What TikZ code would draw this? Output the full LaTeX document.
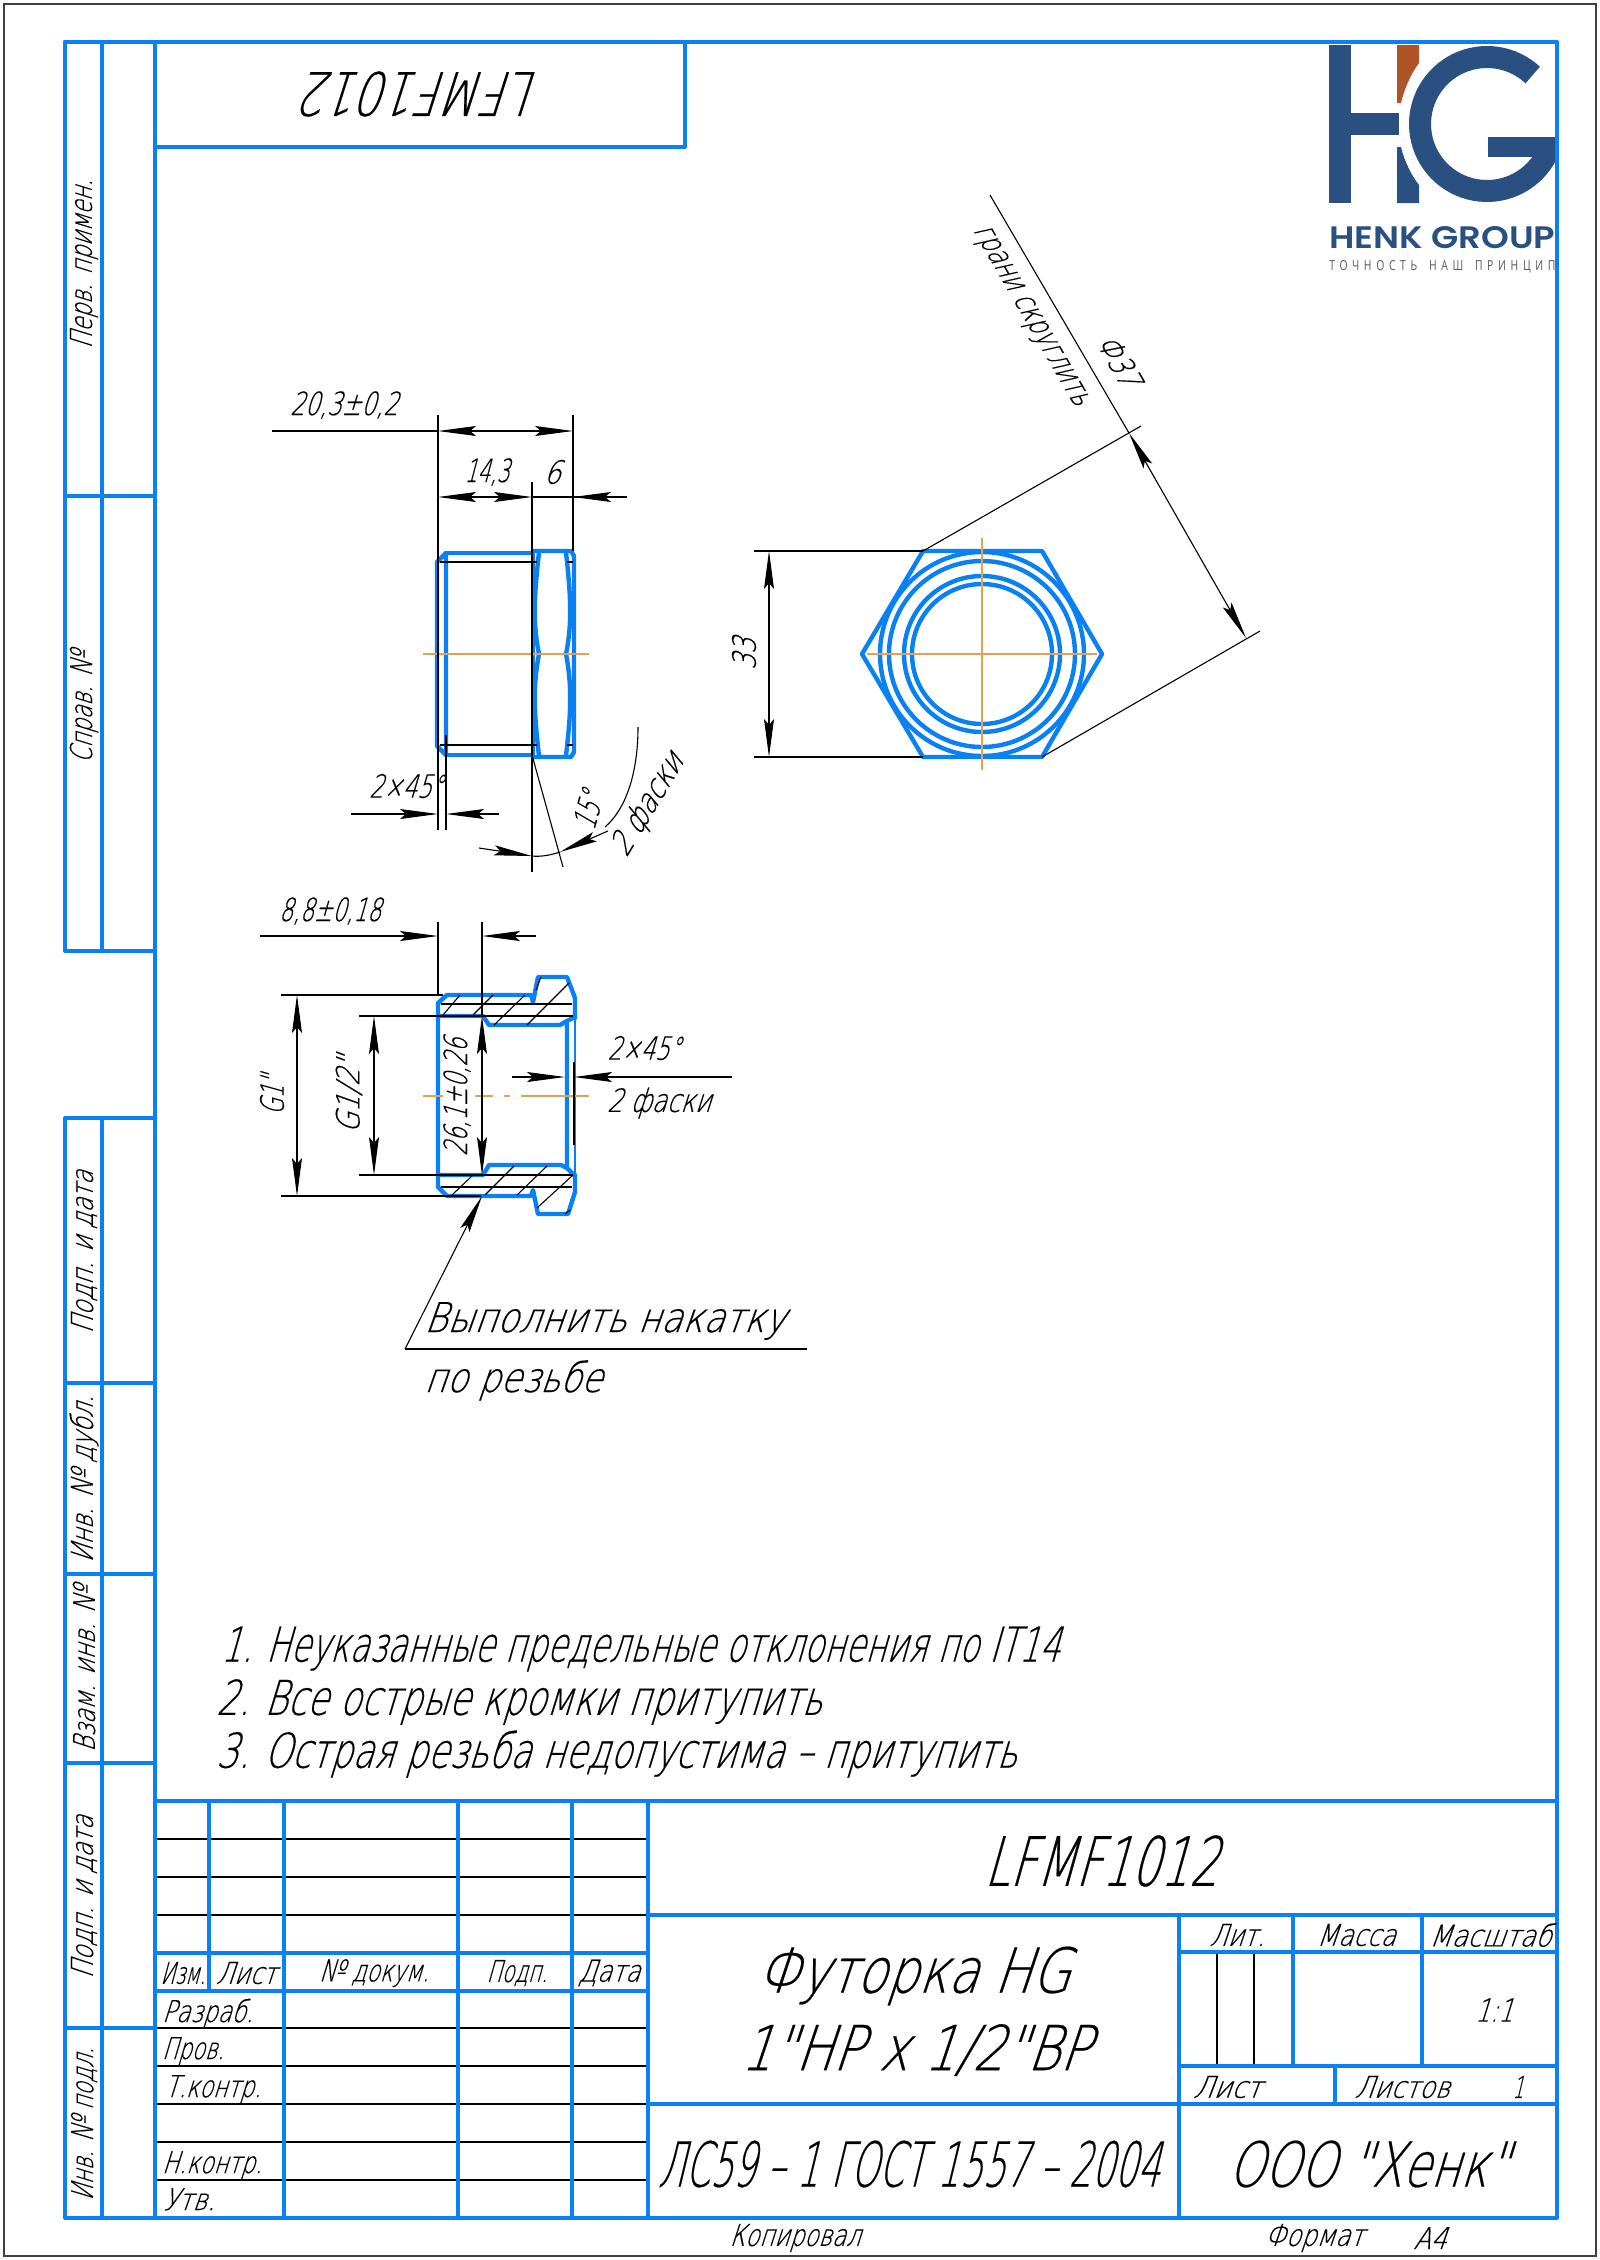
\documentclass[tikz,border=0pt]{standalone}
\usepackage{fontspec}
\usepackage{graphicx}
\usetikzlibrary{arrows.meta}
\newfontfamily\gost[FakeSlant=0.3,FakeStretch=0.72,FakeBold=0.35]{DejaVu Sans ExtraLight}
\newfontfamily\logofont{Poppins SemiBold}
\newfontfamily\tagfont[LetterSpace=45,WordSpace=1.6]{Open Sans}
\newcommand{\ft}[2]{\resizebox{\dimexpr #1pt/2\relax}{\height}{#2}}
\definecolor{bl}{HTML}{0A80F5}
\definecolor{cen}{HTML}{E8A050}
\definecolor{logoblue}{HTML}{2A5082}
\definecolor{logobrown}{HTML}{AE5427}
\tikzset{
  x=0.5pt,y=-0.5pt,
  main/.style={draw=bl,line width=2pt,line join=round,line cap=round},
  part/.style={draw=bl,line width=2.2pt,line join=round,line cap=round},
  partthin/.style={draw=bl,line width=1.3pt,line join=round,line cap=round},
  thin/.style={draw=black,line width=0.55pt},
  axisline/.style={draw=cen,line width=0.55pt},
  dim/.style={draw=black,line width=0.55pt,{Stealth[length=19pt,width=5pt,inset=3pt]}-{Stealth[length=19pt,width=5pt,inset=3pt]}},
  dimr/.style={draw=black,line width=0.55pt,-{Stealth[length=19pt,width=5pt,inset=3pt]}},
  txt/.style={inner sep=0pt,outer sep=0pt,font=\gost\fontsize{#1}{#1}\selectfont,text=black},
  txt/.default=15pt
}
\begin{document}
\begin{tikzpicture}
\useasboundingbox (0,0) rectangle (1600,2260);
\fill[white] (0,0) rectangle (1600,2260);
\draw[draw=black!75,line width=0.8pt] (4,4) rectangle (1596,2256);

% logo
\fill[logoblue] (1329,45) rectangle (1351,203);
\fill[logoblue] (1351,113) rectangle (1399,135);
\fill[logobrown] (1397,45) -- (1419,45) -- (1419,63) .. controls (1410,75) and (1404,90) .. (1401,103) -- (1397,103) -- cycle;
\fill[logoblue] (1397,147) -- (1401,147) .. controls (1404,160) and (1411,175) .. (1419,185) -- (1419,203) -- (1397,203) -- cycle;
\begin{scope}
\clip (1390,40) rectangle (1555,210);
\draw[logoblue,line width=11pt] plot[domain=47:346,samples=70] ({1487+67*cos(\x)},{124-67*sin(\x)});
\end{scope}
\fill[logoblue] (1488,137) rectangle (1555,157);
\node[inner sep=0pt,anchor=west,text=logoblue] (logoa) at (1329,238) {\resizebox{113pt}{11pt}{\logofont HENK GROUP}};
\node[inner sep=0pt,anchor=west,text=black!65] (logob) at (1329,267) {\resizebox{113pt}{5pt}{\tagfont ТОЧНОСТЬ НАШ ПРИНЦИП}};

% thin table lines (below the blue lines)
\foreach \yy in {1839,1877,1915}{\draw[thin] (155,\yy) -- (648,\yy);}
\foreach \yy in {2028,2066,2104,2142,2180}{\draw[thin] (155,\yy) -- (648,\yy);}
\draw[thin] (1217,1952) -- (1217,2066) (1254,1952) -- (1254,2066);

% frame
\draw[main] (65,42) -- (1557,42) -- (1557,2218) -- (65,2218) -- (65,1118) -- (155,1118);
\draw[main] (65,42) -- (65,951) -- (155,951);
\draw[main] (102,42) -- (102,951) (102,1118) -- (102,2218) (155,42) -- (155,2218);
\draw[main] (65,496) -- (155,496) (65,1383) -- (155,1383) (65,1574) -- (155,1574) (65,1763) -- (155,1763) (65,2028) -- (155,2028);
\draw[main] (155,147) -- (685,147) -- (685,42);

% title block
\draw[main] (155,1801) -- (1557,1801);
\draw[main] (155,1953) -- (648,1953) (155,1991) -- (648,1991);
\draw[main] (648,1915) -- (1557,1915) (648,2104) -- (1557,2104);
\draw[main] (1179,1952) -- (1557,1952) (1179,2066) -- (1557,2066);
\draw[main] (209,1801) -- (209,1991);
\draw[main] (284,1801) -- (284,2218) (458,1801) -- (458,2218) (572,1801) -- (572,2218) (648,1801) -- (648,2218);
\draw[main] (1179,1915) -- (1179,2218) (1293,1915) -- (1293,2066) (1422,1915) -- (1422,2066) (1335,2066) -- (1335,2104);

% side view
\draw[part] (446,553) -- (533,553) -- (533,755) -- (446,755);
\draw[part] (446,553) -- (437,562) -- (437,746) -- (446,755) -- cycle;
\draw[part] (533,551) -- (571,551) -- (574,556) -- (574,752) -- (571,757) -- (533,757);
\draw[part] (539,552) .. controls (535,590) and (532,620) .. (539,654) .. controls (532,690) and (535,720) .. (539,756);
\draw[part] (566,552) .. controls (570,590) and (573,620) .. (566,654) .. controls (573,690) and (570,720) .. (566,756);
\draw[draw=bl!70!black,line width=1pt] (539,654) -- (566,654);
\draw[thin] (440,562) -- (537,562) (440,745) -- (537,745);
\draw[thin] (567,562) -- (573,562) (567,745) -- (573,745);
\draw[axisline] (423,654) -- (589,654);
\draw[thin] (438,415) -- (438,830) (446,735) -- (446,830) (532,482) -- (532,872) (573,415) -- (573,551);
\draw[thin] (532,755) -- (563,867);
\coordinate (dA1) at (272,431); \coordinate (dA2) at (438,431); \coordinate (dA3) at (573,431);
\draw[thin] (dA1) -- (dA2);
\draw[dim] (dA2) -- (dA3);
\coordinate (dB1) at (438,497); \coordinate (dB2) at (532,497); \coordinate (dB3) at (573,497); \coordinate (dB4) at (627,497);
\draw[dim] (dB1) -- (dB2);
\draw[thin] (dB2) -- (dB4);
\draw[dimr] (dB4) -- (dB3);
\coordinate (dC1) at (351,814); \coordinate (dC2) at (438,814); \coordinate (dC3) at (446,814); \coordinate (dC4) at (499,814);
\draw[dimr] (dC1) -- (dC2);
\draw[dimr] (dC4) -- (dC3);
\draw[-{Stealth[length=19pt,width=5pt,inset=3pt]},thin] (479,848) -- (532,856);
\draw[thin] (532,856) .. controls (541,857) and (551,855) .. (560,852);
\draw[-{Stealth[length=19pt,width=5pt,inset=3pt]},thin] (608,831) -- (560,852);
\draw[thin] (605,827) .. controls (625,810) and (638,775) .. (638,727);
\node[txt=16pt] (t203) at (344,405) {\ft{108}{20,3±0,2}};
\node[txt=16pt] (t143) at (487,472) {\ft{45}{14,3}};
\node[txt=16pt] (t6) at (552,472) {\ft{17}{6}};
\node[txt=16pt] (t245a) at (406,786) {\ft{74}{2×45°}};
\node[txt=16pt,rotate=75] (t15) at (588,810) {\ft{37}{15°}};
\node[txt=16pt,rotate=59] (tf1) at (648,805) {\ft{113}{2 фаски}};

% hex view
\draw[part] (862,654) -- (923,551) -- (1042,551) -- (1102,654) -- (1042,757) -- (923,757) -- cycle;
\foreach \rr in {102,93,78,70}{\draw[part] (982,654) circle (\rr);}
\draw[axisline] (867,654) -- (1097,654) (982,538) -- (982,770);
\draw[thin] (754,551) -- (923,551) (754,757) -- (923,757);
\coordinate (h1) at (769,551); \coordinate (h2) at (769,757);
\draw[dim] (h1) -- (h2);
\draw[thin] (923,551) -- (1141,426) (1042,757) -- (1260,631);
\coordinate (p1) at (1129,433); \coordinate (p2) at (1246,638);
\draw[dim] (p1) -- (p2);
\draw[thin] (990,195) -- (p1);
\node[txt=16pt,rotate=90] (t33) at (744,654) {\ft{32}{33}};
\node[txt=16pt,rotate=-60] (t37) at (1119,360) {\ft{55}{Ф37}};
\node[txt=16pt,rotate=-60] (tgr) at (1029,316) {\ft{205}{грани скруглить}};

% section
\draw[part] (438,1016) -- (438,1003) -- (447,995) -- (531,995) -- (533,1002) -- (538,977) -- (567,977) -- (575,998) -- (575,1018);
\draw[part] (575,1175) -- (575,1192) -- (568,1214) -- (538,1214) -- (533,1190) -- (531,1196) -- (447,1196) -- (438,1187) -- (438,1016);
\draw[partthin] (575,1018) -- (575,1175);
\draw[part] (438,1016) -- (483,1016) -- (489,1025) -- (560,1025) -- (567,1021) -- (567,1168) -- (561,1165) -- (489,1165) -- (483,1175) -- (438,1175);
\draw[part] (567,1021) -- (575,1017) (567,1168) -- (575,1176);
\draw[thin] (441,1004) -- (572,1004) (483,1016) -- (573,1016) (483,1175) -- (573,1175) (441,1187) -- (572,1187);
\draw[thin] (443,1015) -- (460,995) (473,1015) -- (493,995) (494,1025) -- (525,995) (527,1025) -- (569,983) (536,990) -- (541,977);
\draw[thin] (452,1195) -- (473,1175) (485,1195) -- (514,1166) (517,1195) -- (547,1166) (537,1208) -- (573,1175) (565,1214) -- (570,1210);
\draw[axisline] (423,1096) -- (443,1096) (475,1096) -- (493,1096) (504,1096) -- (510,1096) (521,1096) -- (589,1096);
\draw[thin] (438,922) -- (438,995) (482,922) -- (482,1016) (574,1062) -- (574,1145);
\draw[thin] (281,995) -- (443,995) (281,1196) -- (481,1196) (359,1016) -- (483,1016) (359,1175) -- (483,1175);
\coordinate (s1) at (260,936); \coordinate (s2) at (438,936); \coordinate (s3) at (482,936); \coordinate (s4) at (536,936);
\draw[dimr] (s1) -- (s2);
\draw[dimr] (s4) -- (s3);
\coordinate (g1a) at (297,995); \coordinate (g1b) at (297,1196);
\draw[dim] (g1a) -- (g1b);
\coordinate (g2a) at (374,1016); \coordinate (g2b) at (374,1175);
\draw[dim] (g2a) -- (g2b);
\coordinate (g3a) at (482,1016); \coordinate (g3b) at (482,1175);
\draw[dim] (g3a) -- (g3b);
\coordinate (k1) at (512,1077); \coordinate (k2) at (565,1077); \coordinate (k3) at (574,1077); \coordinate (k4) at (732,1077);
\draw[dimr] (k1) -- (k2);
\draw[dimr] (k4) -- (k3);
\coordinate (l1) at (807,1349); \coordinate (l2) at (405,1349); \coordinate (l3) at (482,1196);
\draw[thin] (l1) -- (l2);
\draw[dimr] (l2) -- (l3);
\node[txt=16pt] (t88) at (330,911) {\ft{102}{8,8±0,18}};
\node[txt=16pt,rotate=90] (tg1) at (272,1095) {\ft{40}{G1"}};
\node[txt=16pt,rotate=90] (tg2) at (349,1095) {\ft{77}{G1/2"}};
\node[txt=16pt,rotate=90] (t261) at (457,1097) {\ft{118}{26,1±0,26}};
\node[txt=16pt] (t245b) at (644,1048) {\ft{73}{2×45°}};
\node[txt=16pt] (tf2) at (659,1103) {\ft{104}{2 фаски}};
\node[txt=20.5pt,anchor=base west] (tv1) at (424,1332) {\ft{361}{Выполнить накатку}};
\node[txt=20.5pt,anchor=base west] (tv2) at (424,1392) {\ft{178}{по резьбе}};

% notes
\node[txt=24pt,anchor=west] (n1) at (221,1649) {\ft{839}{1. Неуказанные предельные отклонения по IT14}};
\node[txt=24pt,anchor=west] (n2) at (216,1702) {\ft{606}{2. Все острые кромки притупить}};
\node[txt=24pt,anchor=west] (n3) at (216,1754) {\ft{801}{3. Острая резьба недопустима – притупить}};

% titles
\node[txt=30pt,rotate=180] (t0) at (423,94) {\ft{234}{LFMF1012}};
\node[txt=34pt] (t1) at (1101,1861) {\ft{234}{LFMF1012}};
\node[txt=31pt] (t2) at (913,1976) {\ft{313}{Футорка HG}};
\node[txt=31pt] (t3) at (915,2050) {\ft{349}{1"НР x 1/2"ВР}};
\node[txt=31pt] (t4) at (909,2164) {\ft{502}{ЛС59 – 1 ГОСТ 1557 – 2004}};
\node[txt=31pt] (t5) at (1368,2164) {\ft{280}{ООО "Хенк"}};

% table
\node[txt] (c1) at (183,1973) {\ft{45}{Изм.}};
\node[txt] (c2) at (246,1973) {\ft{60}{Лист}};
\node[txt] (c3) at (374,1973) {\ft{110}{№ докум.}};
\node[txt] (c4) at (517,1973) {\ft{61}{Подп.}};
\node[txt] (c5) at (609,1973) {\ft{62}{Дата}};
\node[txt,anchor=base west] (r1) at (162,2022) {\ft{91}{Разраб.}};
\node[txt,anchor=base west] (r2) at (162,2059) {\ft{62}{Пров.}};
\node[txt,anchor=base west] (r3) at (165,2097) {\ft{96}{Т.контр.}};
\node[txt,anchor=base west] (r4) at (162,2173) {\ft{100}{Н.контр.}};
\node[txt,anchor=base west] (r5) at (163,2210) {\ft{52}{Утв.}};
\node[txt] (b1) at (1237,1935) {\ft{55}{Лит.}};
\node[txt] (b2) at (1356,1935) {\ft{79}{Масса}};
\node[txt] (b3) at (1490,1935) {\ft{122}{Масштаб}};
\node[txt=16pt] (b4) at (1494,2010) {\ft{38}{1:1}};
\node[txt] (b5) at (1227,2087) {\ft{68}{Лист}};
\node[txt] (b6) at (1402,2087) {\ft{95}{Листов}};
\node[txt] (b7) at (1518,2087) {\ft{11}{1}};
\node[txt] (b8) at (795,2238) {\ft{131}{Копировал}};
\node[txt] (b9) at (1314,2238) {\ft{99}{Формат}};
\node[txt] (b10) at (1430,2238) {\ft{33}{А4}};

% strip
\node[txt,rotate=90] (v1) at (84,264) {\ft{169}{Перв. примен.}};
\node[txt,rotate=90] (v2) at (84,707) {\ft{112}{Справ. №}};
\node[txt,rotate=90] (v3) at (84,1252) {\ft{163}{Подп. и дата}};
\node[txt,rotate=90] (v4) at (84,1479) {\ft{167}{Инв. № дубл.}};
\node[txt,rotate=90] (v5) at (84,1669) {\ft{166}{Взам. инв. №}};
\node[txt,rotate=90] (v6) at (84,1897) {\ft{163}{Подп. и дата}};
\node[txt,rotate=90] (v7) at (84,2124) {\ft{153}{Инв. № подл.}};
\end{tikzpicture}
\end{document}
